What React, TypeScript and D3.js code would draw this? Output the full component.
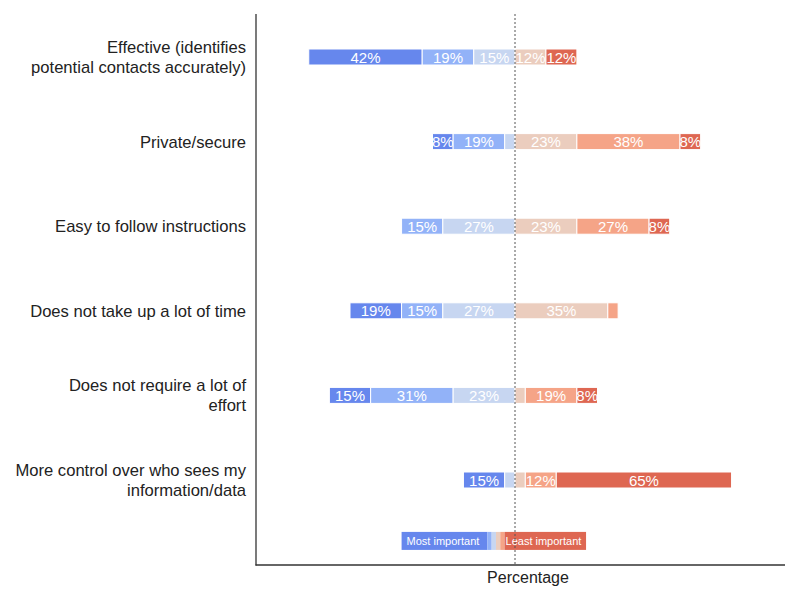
import React from "react";
import * as d3 from "d3";

const categories = [
  ["Effective (identifies", "potential contacts accurately)"],
  ["Private/secure"],
  ["Easy to follow instructions"],
  ["Does not take up a lot of time"],
  ["Does not require a lot of", "effort"],
  ["More control over who sees my", "information/data"],
];
const totalRespondents = 26;
// counts per importance level (1 = most important ... 6 = least important)
const level1 = [11, 2, 0, 5, 4, 4];
const level2 = [5, 5, 4, 4, 8, 0];
const level3 = [4, 1, 7, 7, 6, 1];
const level4 = [3, 6, 6, 9, 1, 1];
const level5 = [0, 10, 7, 1, 5, 3];
const level6 = [3, 2, 2, 0, 2, 17];
const levels = [level1, level2, level3, level4, level5, level6];
const colors = ["#6687ed", "#92b2f8", "#c7d6f1", "#ebcdbe", "#f5a487", "#de6752"];
const legendWidths = [32, 1.6, 1.6, 1.6, 1.6, 30.4];
const legendLabels = ["Most important", "Least important"];
const xDomain = [-96.6, 100.7];

export default function App() {
  const W = 800, H = 600;
  const x = d3.scaleLinear().domain(xDomain).range([256, 785]);
  const y = d3.scaleLinear().domain([0, 5]).range([57, 480]);
  const barH = 16;

  const rows = categories.map((cat, i) => {
    const vals = levels.map((l) => (l[i] / totalRespondents) * 100);
    const leftSum = vals[0] + vals[1] + vals[2];
    let start = -leftSum;
    const segs = vals.map((v, k) => {
      const s = { x0: start, x1: start + v, v, k };
      start += v;
      return s;
    });
    return { cat, segs, i };
  });

  const legY = y(5.72);
  let ls = -42.3;
  const legSegs = legendWidths.map((w, k) => {
    const s = { x0: ls, x1: ls + w, k };
    ls += w;
    return s;
  });

  return (
    <svg width={W} height={H} style={{ display: "block", position: "absolute", left: 0, top: 0 }} fontFamily="Liberation Sans, Arial, sans-serif">
      <rect width={W} height={H} fill="#fff" />
      {rows.map((r) => {
        const cy = y(r.i);
        return (
          <g key={r.i}>
            {r.segs.filter((s) => s.v > 0).map((s) => (
              <g key={s.k}>
                <rect x={x(s.x0)} y={cy - barH / 2} width={x(s.x1) - x(s.x0)} height={barH}
                  fill={colors[s.k]} stroke="#fff" strokeWidth={1} />
                {s.v >= 7 && (
                  <text x={(x(s.x0) + x(s.x1)) / 2} y={cy + 5.5} textAnchor="middle" fill="#fff" fontSize={15}>
                    {Math.round(s.v)}%
                  </text>
                )}
              </g>
            ))}
            {r.cat.map((line, j) => (
              <text key={j} x={246} y={cy + 6 + (j - (r.cat.length - 1) / 2) * 20} textAnchor="end" fontSize={16.6} fill="#222">
                {line}
              </text>
            ))}
          </g>
        );
      })}
      {legSegs.map((s) => (
        <rect key={s.k} x={x(s.x0)} y={legY - 9} width={x(s.x1) - x(s.x0)} height={18} fill={colors[s.k]} />
      ))}
      <text x={x(legSegs[0].x0) + 5} y={legY + 4} fill="#fff" fontSize={11}>{legendLabels[0]}</text>
      <text x={x(legSegs[5].x0) + 1} y={legY + 4} fill="#fff" fontSize={11}>{legendLabels[1]}</text>
      <line x1={x(0)} x2={x(0)} y1={14} y2={565} stroke="#555" strokeWidth={1} strokeDasharray="2,2" />
      <line x1={256} x2={256} y1={14} y2={565.5} stroke="#333" strokeWidth={1.3} />
      <line x1={255.5} x2={785} y1={565} y2={565} stroke="#333" strokeWidth={1.3} />
      <text x={528} y={583} textAnchor="middle" fontSize={16} fill="#222">Percentage</text>
    </svg>
  );
}
